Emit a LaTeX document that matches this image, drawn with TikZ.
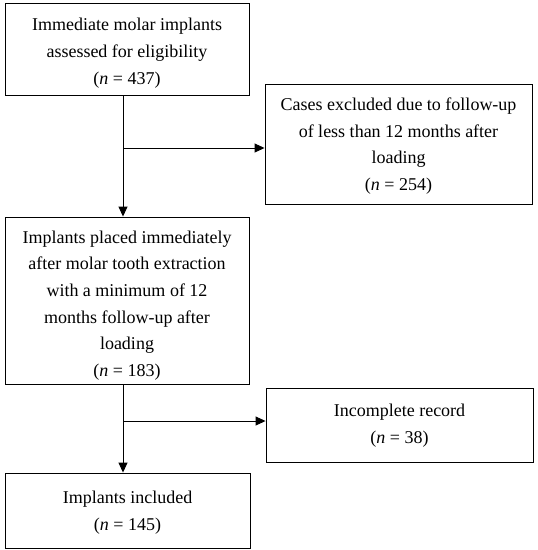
\documentclass[tikz,border=0pt]{standalone}
\usepackage{fontspec}
\setmainfont{Liberation Serif}
\usetikzlibrary{arrows.meta,calc}
\begin{document}
\begin{tikzpicture}[x=1pt,y=-1pt,
  box/.style={draw=black,line width=0.9pt,inner sep=0pt},
  txt/.style={align=center,inner sep=0pt,font=\fontsize{18}{26.7}\selectfont},
  arr/.style={line width=0.9pt,-{Triangle[length=10pt,width=9pt]}}]
\useasboundingbox (0,0) rectangle (538,550);
\node[box,minimum width=244pt,minimum height=92pt] (b1) at (127,49) {};
\node[txt] (t1) at ($(b1.center)+(0,4)$)
  {Immediate molar implants\\assessed for eligibility\\(\textit{n} = 437)};
\node[box,minimum width=267pt,minimum height=120pt] (b2) at (398.5,144) {};
\node[txt] (t2) at ($(b2.center)+(0,2)$)
  {Cases excluded due to follow-up\\of less than 12 months after\\loading\\(\textit{n} = 254)};
\node[box,minimum width=244pt,minimum height=167pt] (b3) at (127,300.5) {};
\node[txt] (t3) at ($(b3.center)+(0,5)$)
  {Implants placed immediately\\after molar tooth extraction\\with a minimum of 12\\months follow-up after\\loading\\(\textit{n} = 183)};
\node[box,minimum width=267pt,minimum height=74pt] (b4) at (399.5,425) {};
\node[txt] (t4) at ($(b4.center)+(0,1)$)
  {Incomplete record\\(\textit{n} = 38)};
\node[box,minimum width=245pt,minimum height=75pt] (b5) at (127.5,510.5) {};
\node[txt] (t5) at ($(b5.center)+(0,2)$)
  {Implants included\\(\textit{n} = 145)};
\coordinate (j1) at (123,148);
\coordinate (j2) at (123,421);
\draw[arr] (b1.south -| j1) -- (b3.north -| j1);
\draw[arr] (j1) -- (b2.west |- j1);
\draw[arr] (b3.south -| j2) -- (b5.north -| j2);
\draw[arr] (j2) -- (b4.west |- j2);
\end{tikzpicture}
\end{document}
